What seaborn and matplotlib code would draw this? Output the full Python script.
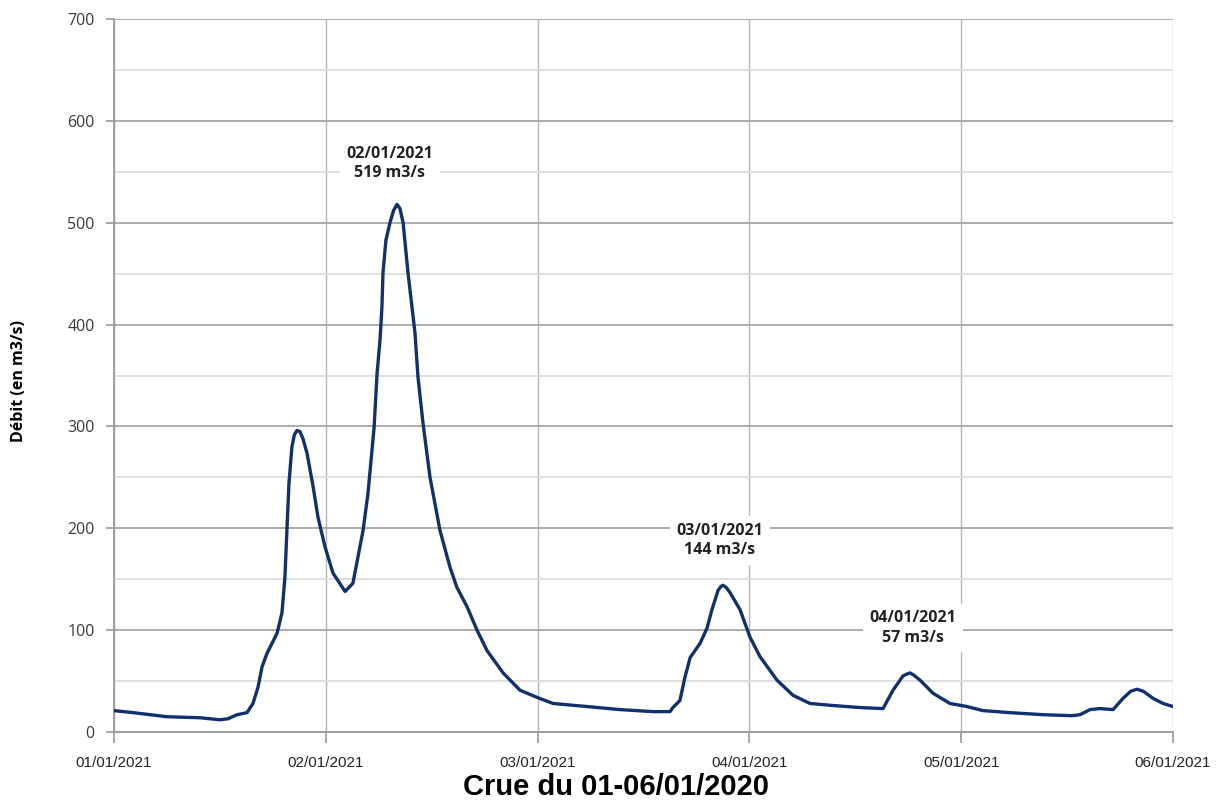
import matplotlib
matplotlib.use("Agg")
import matplotlib.pyplot as plt
import seaborn as sns
import pandas as pd
from matplotlib.ticker import MultipleLocator, FixedLocator

# Data: time in days since 01/01 (x axis), discharge in m3/s
days = [0.000, 0.090, 0.250, 0.406, 0.500, 0.538, 0.581, 0.628, 0.656, 0.680,
        0.699, 0.722, 0.770, 0.793, 0.807, 0.817, 0.826, 0.840, 0.852, 0.864, 0.878,
        0.892, 0.911, 0.940, 0.963, 0.996, 1.034, 1.091, 1.128, 1.152, 1.176, 1.199,
        1.228, 1.242, 1.256, 1.265, 1.270, 1.284, 1.303, 1.320, 1.336, 1.350, 1.365, 1.388,
        1.407, 1.421, 1.435, 1.459, 1.492, 1.539, 1.586, 1.619, 1.667, 1.714,
        1.761, 1.837, 1.917, 1.997, 2.073, 2.233, 2.389, 2.545, 2.625, 2.639,
        2.672, 2.696, 2.720, 2.767, 2.800, 2.823, 2.852, 2.866, 2.875, 2.890, 2.908, 2.956,
        3.003, 3.050, 3.130, 3.206, 3.286, 3.395, 3.522, 3.631, 3.678, 3.725,
        3.745, 3.758, 3.775, 3.805, 3.867, 3.947, 4.027, 4.103, 4.230, 4.386, 4.523, 4.561,
        4.608, 4.655, 4.717, 4.764, 4.800, 4.830, 4.860, 4.906, 4.953, 5.000]
debit = [21, 19, 15, 14, 12, 13, 17, 19, 28, 44,
         64, 77, 97, 117, 152, 201, 244, 280, 292, 296, 295,
         288, 274, 241, 211, 182, 156, 138, 146, 172, 198, 234,
         299, 352, 385, 417, 451, 483, 500, 512, 518, 514, 500, 451,
         417, 392, 349, 303, 250, 198, 162, 142, 123, 100,
         80, 58, 41, 34, 28, 25, 22, 20, 20, 24,
         31, 54, 73, 87, 102, 120, 139, 143, 144, 142, 137, 120,
         93, 74, 51, 36, 28, 26, 24, 23, 41, 55,
         57, 58, 56, 51, 38, 28, 25, 21, 19, 17, 16, 17,
         22, 23, 22, 33, 40, 42, 40, 33, 28, 25]

tick_labels = ["01/01/2021", "02/01/2021", "03/01/2021",
               "04/01/2021", "05/01/2021", "06/01/2021"]

peak_labels = ["02/01/2021\n519 m3/s", "03/01/2021\n144 m3/s", "04/01/2021\n57 m3/s"]
peak_label_x = [1.303, 2.861, 3.772]
peak_label_y = [558, 188, 102]

title = "Crue du 01-06/01/2020"
ylabel = "Débit (en m3/s)"

sns.set_style("white")
plt.rcParams['font.family'] = ['Open Sans', 'DejaVu Sans']

fig = plt.figure(figsize=(12.2, 8), dpi=100)
ax = fig.add_axes([114/1220, 1 - 732/800, (1173-114)/1220, (732-19)/800])

df = pd.DataFrame({"jour": days, "debit": debit})
sns.lineplot(data=df, x="jour", y="debit", ax=ax, color="#10306f", linewidth=2.4, zorder=5)

ax.set_xlim(0, 5)
ax.set_ylim(0, 700)
ax.yaxis.set_major_locator(MultipleLocator(100))
ax.yaxis.set_minor_locator(MultipleLocator(50))
ax.xaxis.set_major_locator(FixedLocator(list(range(len(tick_labels)))))
ax.set_xticklabels(tick_labels, family='Liberation Sans', fontsize=11, color="#222222")
for lab in ax.get_yticklabels():
    lab.set_fontsize(11.5)
    lab.set_color("#3a3a3a")

ax.grid(which='major', axis='y', color='#a6a6a6', linewidth=1.3, zorder=0)
ax.grid(which='minor', axis='y', color='#dcdcdc', linewidth=1.3, zorder=0)
ax.grid(which='major', axis='x', color='#b4b4b4', linewidth=1.0, zorder=0)
ax.set_axisbelow(True)

for s in ['top', 'right']:
    ax.spines[s].set_visible(False)
for s in ['left', 'bottom']:
    ax.spines[s].set_color('#9a9a9a')
    ax.spines[s].set_linewidth(1.3)

ax.tick_params(axis='y', which='major', direction='out', length=6, width=1.2, color='#9a9a9a', pad=8, left=True)
ax.tick_params(axis='y', which='minor', length=0)
ax.tick_params(axis='x', which='major', direction='out', length=8, width=1.2, color='#9a9a9a', pad=9, bottom=True)

ax.set_xlabel(title, family='Liberation Sans', fontweight='bold', fontsize=21, color='black', va='center')
ax.xaxis.set_label_coords((616 - 114) / 1059, (732 - 787) / 713)
ax.set_ylabel(ylabel, fontweight='bold', fontsize=11.5, color='black', va='center')
ax.yaxis.set_label_coords((19 - 114) / 1059, (732 - 381) / 713)

for txt, x, y in zip(peak_labels, peak_label_x, peak_label_y):
    ax.text(x, y, txt, ha='center', va='center', fontsize=11.5, fontweight='bold',
            color='#222222', linespacing=1.3, zorder=6,
            bbox=dict(boxstyle='square,pad=0.4', facecolor='white', edgecolor='none'))

fig.savefig("out.png", dpi=100)
